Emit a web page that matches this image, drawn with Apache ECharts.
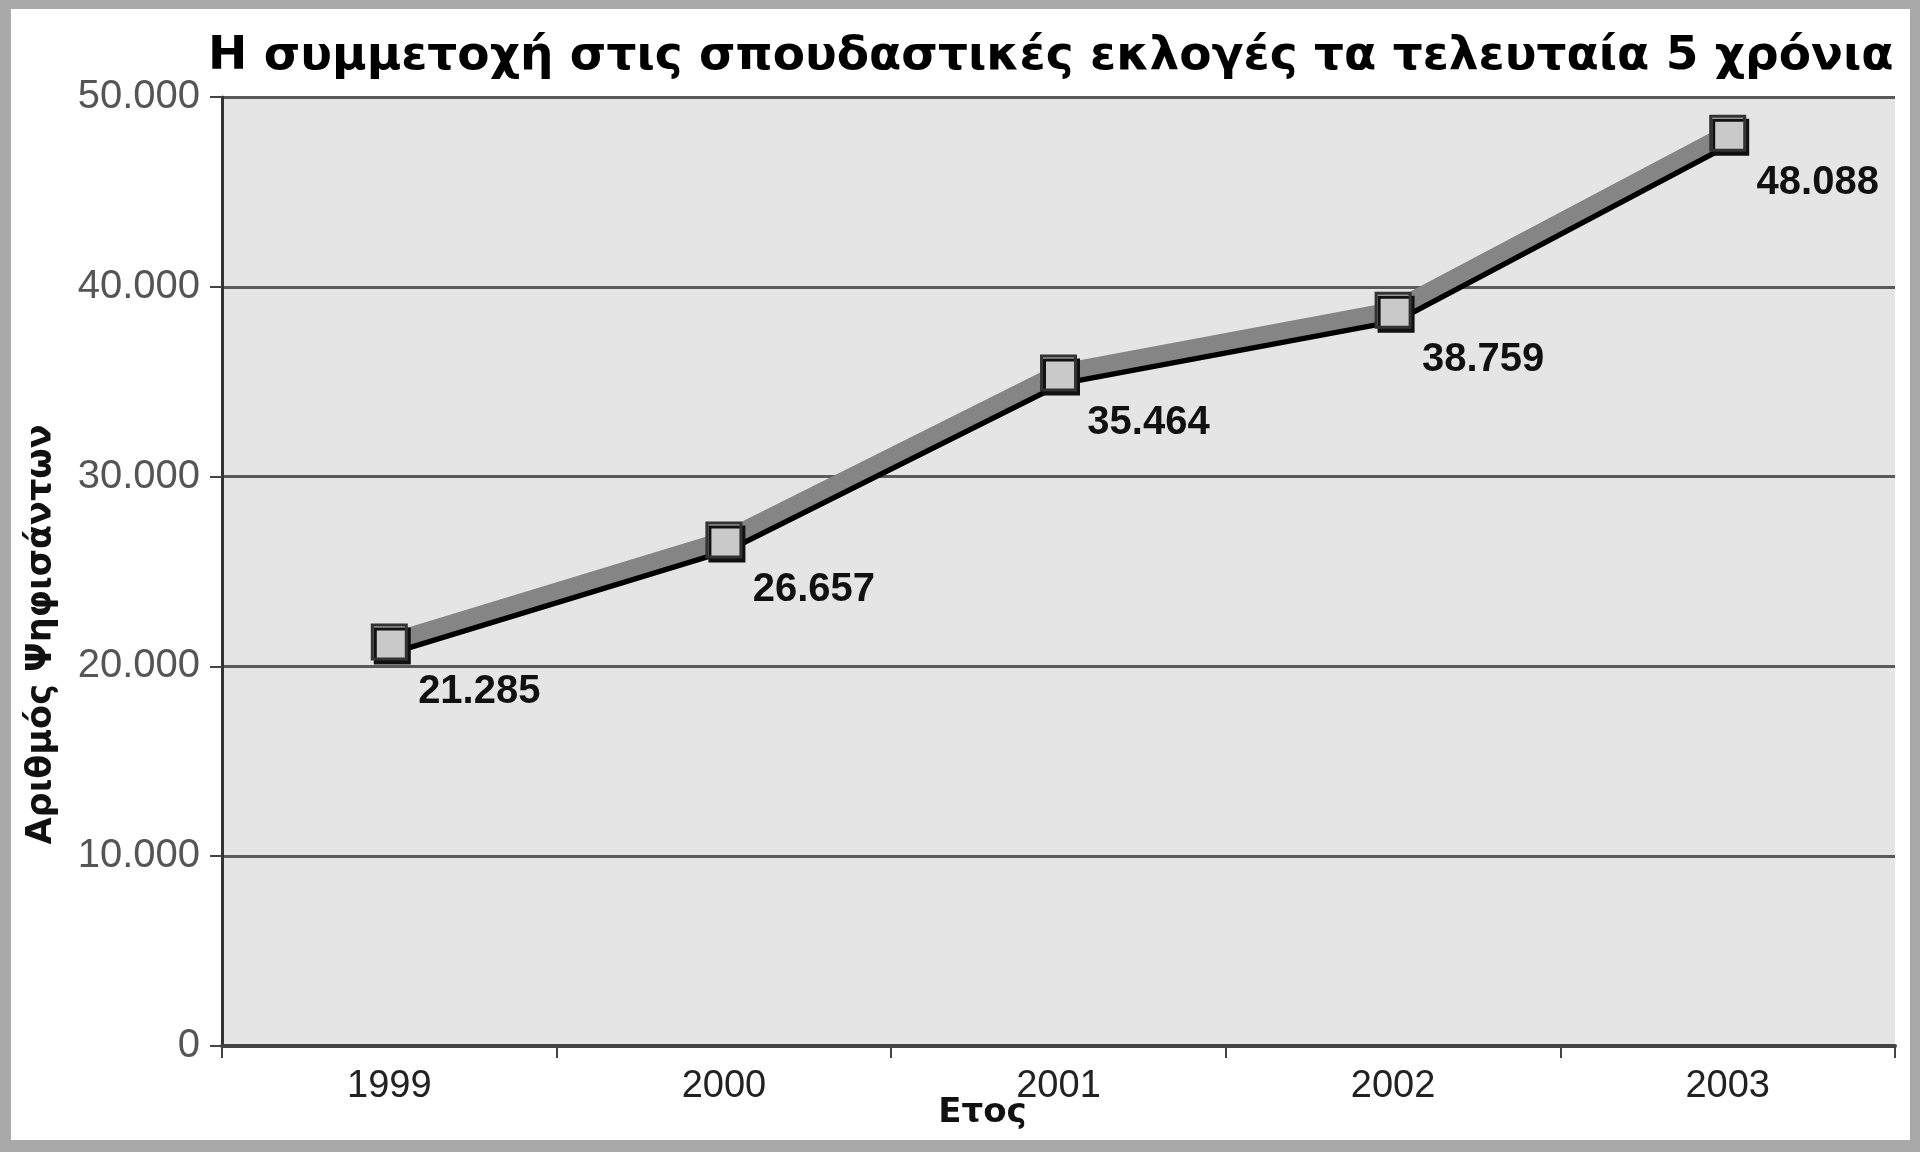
<!DOCTYPE html>
<html>
<head>
<meta charset="utf-8">
<script src="https://cdn.jsdelivr.net/npm/echarts@6/dist/echarts.min.js"></script>
<style>
  html, body { margin: 0; padding: 0; width: 1920px; height: 1152px; background: #a9a9a9; overflow: hidden; }
  #chart { position: absolute; left: 11px; top: 9px; width: 1899px; height: 1131px; background: #ffffff; }
</style>
</head>
<body>
<div id="chart"></div>
<script>
const titleText = 'Η συμμετοχή στις σπουδαστικές εκλογές τα τελευταία 5 χρόνια';
const yAxisTitle = 'Αριθμός Ψηφισάντων';
const xAxisTitle = 'Ετος';
const years = ['1999', '2000', '2001', '2002', '2003'];
const voters = [21285, 26657, 35464, 38759, 48088];
const yTicks = [0, 10000, 20000, 30000, 40000, 50000];

function fmt(n) {
  return String(n).replace(/\B(?=(\d{3})+(?!\d))/g, '.');
}

const chart = echarts.init(document.getElementById('chart'), null, { renderer: 'canvas' });
chart.setOption({
  animation: false,
  backgroundColor: '#ffffff',
  title: {
    text: titleText,
    left: 197,
    top: 24,
    padding: 0,
    textStyle: { fontFamily: 'DejaVu Sans', fontWeight: 'bold', fontSize: 47, color: '#000' }
  },
  grid: {
    left: 211, right: 15, top: 88, bottom: 94,
    show: true, backgroundColor: '#e5e5e5', borderWidth: 0,
    containLabel: false,
    outerBoundsMode: 'none'
  },
  xAxis: {
    type: 'category',
    data: years,
    boundaryGap: true,
    name: xAxisTitle,
    nameLocation: 'middle',
    nameGap: 50,
    nameMoveOverlap: false,
    nameTextStyle: { fontFamily: 'DejaVu Sans', fontWeight: 'bold', fontSize: 34, color: '#111', padding: [0, 152, 0, 0] },
    axisLine: { show: true, lineStyle: { color: '#444', width: 4 } },
    axisTick: { show: true, inside: false, length: 12, alignWithLabel: false, lineStyle: { color: '#444', width: 2 } },
    axisLabel: { fontFamily: 'Liberation Sans', fontSize: 38, color: '#222', margin: 22 },
    splitLine: { show: false }
  },
  yAxis: {
    type: 'value',
    min: yTicks[0],
    max: yTicks[yTicks.length - 1],
    interval: 10000,
    name: yAxisTitle,
    nameLocation: 'middle',
    nameGap: 163,
    nameMoveOverlap: false,
    nameRotate: 90,
    nameTextStyle: { fontFamily: 'DejaVu Sans', fontWeight: 'bold', fontSize: 35, color: '#111', padding: [0, 126, 0, 0] },
    axisLine: { show: true, lineStyle: { color: '#333', width: 3 } },
    axisTick: { show: true, inside: false, length: 12, lineStyle: { color: '#444', width: 2 } },
    axisLabel: { fontFamily: 'Liberation Sans', fontSize: 40, color: '#555', margin: 22, formatter: v => fmt(v) },
    splitLine: { show: true, lineStyle: { color: '#5a5a5a', width: 3 } }
  },
  series: [{
    type: 'line',
    data: voters,
    symbol: 'rect',
    symbolSize: 34,
    lineStyle: { color: '#858585', width: 17, shadowColor: '#000', shadowOffsetX: 2, shadowOffsetY: 5, shadowBlur: 0 },
    itemStyle: { color: '#c9c9c9', borderColor: '#333', borderWidth: 3, shadowColor: '#111', shadowOffsetX: 3, shadowOffsetY: 4, shadowBlur: 0 },
    label: {
      show: true,
      position: 'inside',
      offset: [90, 50],
      formatter: p => fmt(p.value),
      fontFamily: 'Liberation Sans', fontWeight: 'bold', fontSize: 40, color: '#111'
    },
    z: 3
  }]
});
</script>
</body>
</html>
